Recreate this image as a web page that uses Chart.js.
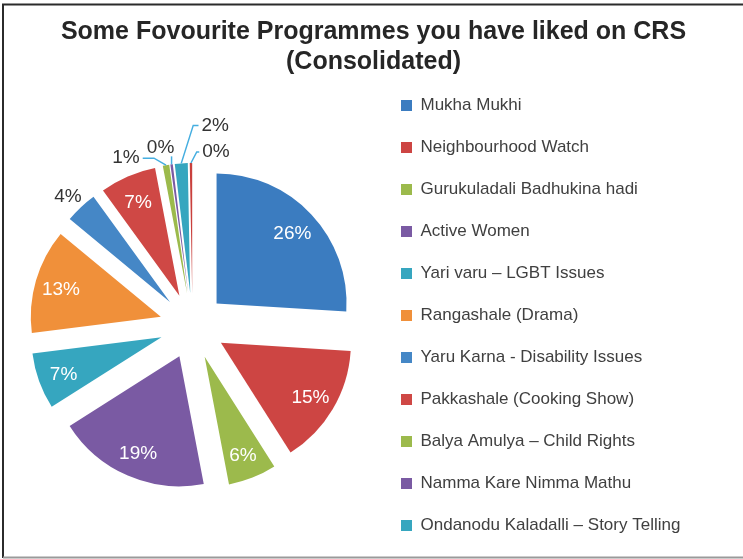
<!DOCTYPE html>
<html>
<head>
<meta charset="utf-8">
<title>Some Fovourite Programmes you have liked on CRS</title>
<script src="https://cdn.jsdelivr.net/npm/chart.js@4.4.1/dist/chart.umd.min.js"></script>
<style>
    html, body { margin: 0; padding: 0; background: #fff; }
    #wrap { width: 743px; height: 559px; }
</style>
</head>
<body>
<div id="wrap"><canvas id="pieChart"></canvas></div>
<script>
// programme names, in slice order (the 12th slice has no legend entry in the original)
const programmes = [
    'Mukha Mukhi',
    'Neighbourhood Watch',
    'Gurukuladali Badhukina hadi',
    'Active Women',
    'Yari varu \u2013 LGBT Issues',
    'Rangashale (Drama)',
    'Yaru Karna - Disability Issues',
    'Pakkashale (Cooking Show)',
    'Balya Amulya \u2013 Child Rights',
    'Namma Kare Nimma Mathu',
    'Ondanodu Kaladalli \u2013 Story Telling',
    'Other'
];
// share of responses in percent
const shares = [26, 15, 6, 19, 7, 13, 4, 7, 0.8, 0.3, 1.6, 0.3];
const sliceColors = [
    '#3b7cc0', '#cd4543', '#9cba4c', '#7a5aa3', '#36a6bf', '#f0903a',
    '#4587c6', '#cf4845', '#9cba4c', '#7a5aa3', '#36a6bf', '#c9403d'
];
const legendCount = 11;

const FONT = '"Liberation Sans", Arial, Helvetica, sans-serif';
const EXPLODE = 33;        // every slice is pulled out by this much
const LEGEND_WIDTH = 362;

// where the small outside labels sit, relative to the slice tip
const callouts = {
    6:  { dx: -13, dy: -10, leader: false },
    8:  { dx: -40, dy: -7,  leader: true },
    9:  { dx: -11, dy: -17, leader: true },
    10: { dx: 34,  dy: -38, leader: true },
    11: { dx: 25,  dy: -11, leader: true }
};

const framePlugin = {
    id: 'frame',
    beforeDraw(chart) {
        const ctx = chart.ctx;
        ctx.save();
        ctx.fillStyle = '#fff';
        ctx.fillRect(0, 0, chart.width, chart.height);
        ctx.lineWidth = 2;
        ctx.strokeStyle = '#2b2b2b';
        ctx.beginPath();
        ctx.moveTo(3, 558); ctx.lineTo(3, 4.5); ctx.lineTo(chart.width, 4.5);
        ctx.stroke();
        ctx.strokeStyle = '#9a9a9a';
        ctx.beginPath();
        ctx.moveTo(3, 557.5); ctx.lineTo(chart.width, 557.5);
        ctx.stroke();
        ctx.restore();
    }
};

// wider legend box, and keep all entries in one column
const legendFitPlugin = {
    id: 'legendFit',
    beforeInit(chart) {
        const originalFit = chart.legend.fit;
        chart.legend.fit = function () {
            const maxH = this.maxHeight;
            this.maxHeight = maxH + 200;
            originalFit.call(this);
            this.maxHeight = maxH;
            this.height = maxH;
            this.width = LEGEND_WIDTH;
        };
    }
};

// draw each slice pulled out from the centre
const explodePlugin = {
    id: 'explode',
    beforeDatasetDraw(chart, args) {
        const ctx = chart.ctx;
        args.meta.data.forEach(arc => {
            const mid = (arc.startAngle + arc.endAngle) / 2;
            ctx.save();
            ctx.translate(Math.cos(mid) * EXPLODE, Math.sin(mid) * EXPLODE);
            arc.draw(ctx);
            ctx.restore();
        });
        return false;
    }
};

const pctLabelPlugin = {
    id: 'pctLabels',
    afterDatasetsDraw(chart) {
        const ctx = chart.ctx;
        const meta = chart.getDatasetMeta(0);
        const total = shares.reduce((a, b) => a + b, 0);
        ctx.save();
        ctx.font = '19px ' + FONT;
        ctx.textAlign = 'center';
        ctx.textBaseline = 'middle';
        meta.data.forEach((arc, i) => {
            const text = Math.round(shares[i] / total * 100) + '%';
            const mid = (arc.startAngle + arc.endAngle) / 2;
            const cos = Math.cos(mid), sin = Math.sin(mid);
            const R = arc.outerRadius;
            const c = callouts[i];
            if (!c) {
                const r = EXPLODE + R * 0.8;
                ctx.fillStyle = '#ffffff';
                ctx.fillText(text, arc.x + cos * r, arc.y + sin * r + 2);
                return;
            }
            const tipX = arc.x + cos * (EXPLODE + R);
            const tipY = arc.y + sin * (EXPLODE + R);
            const lx = tipX + c.dx, ly = tipY + c.dy;
            if (c.leader) {
                const half = ctx.measureText(text).width / 2 + 3;
                ctx.strokeStyle = '#45aee0';
                ctx.lineWidth = 1.5;
                ctx.beginPath();
                ctx.moveTo(tipX, tipY);
                if (Math.abs(lx - tipX) < half) {
                    ctx.lineTo(tipX, ly + 9);
                } else {
                    const edgeX = lx > tipX ? lx - half : lx + half;
                    const dir = Math.sign(edgeX - tipX);
                    const elbowX = tipX + dir * Math.min(12, Math.abs(edgeX - tipX) * 0.7);
                    ctx.lineTo(elbowX, ly);
                    ctx.lineTo(edgeX, ly);
                }
                ctx.stroke();
            }
            ctx.fillStyle = '#333333';
            ctx.fillText(text, lx, ly);
        });
        ctx.restore();
    }
};

const ctx = document.getElementById('pieChart').getContext('2d');
const myPie = new Chart(ctx, {
    type: 'pie',
    data: {
        labels: programmes,
        datasets: [{
            data: shares,
            backgroundColor: sliceColors,
            borderWidth: 0,
            hoverOffset: 0
        }]
    },
    options: {
        responsive: true,
        maintainAspectRatio: false,
        animation: false,
        radius: 130,
        layout: {
            padding: { left: 9, right: 5, top: 0, bottom: 0 }
        },
        plugins: {
            title: {
                display: true,
                text: ['Some Fovourite Programmes you have liked on CRS', '(Consolidated)'],
                color: '#262626',
                font: { family: FONT, size: 25, weight: 'bold', lineHeight: 1.2 },
                padding: { top: 17, bottom: 16 }
            },
            legend: {
                position: 'right',
                align: 'end',
                labels: {
                    boxWidth: 11,
                    boxHeight: 11,
                    padding: 25,
                    color: '#404040',
                    font: { family: FONT, size: 17 },
                    filter: (item) => item.index < legendCount
                }
            },
            tooltip: { enabled: false }
        }
    },
    plugins: [framePlugin, legendFitPlugin, explodePlugin, pctLabelPlugin]
});
</script>
</body>
</html>
